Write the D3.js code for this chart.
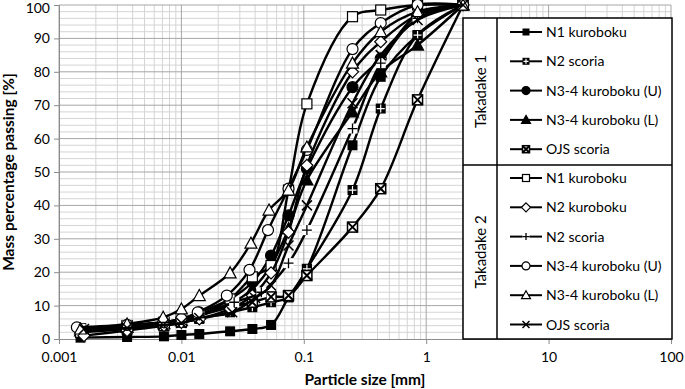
<!DOCTYPE html>
<html lang="en">
<head>
<meta charset="UTF-8" />
<title>Particle size distribution</title>
<script src="https://d3js.org/d3.v7.min.js"></script>
<style>
  body { margin: 0; background: #fff; }
  svg { display: block; font-family: Lato, "Liberation Sans", sans-serif; }
</style>
</head>
<body>
<div id="chart"></div>
<script>
// --- Data: [particle size (mm), mass % passing] ---
const t1N1 = [[2,100],[0.85,91],[0.425,78.5],[0.25,58],[0.106,21],[0.075,12.5],[0.054,4.2],[0.038,3],[0.025,2.3],[0.014,1.5],[0.01,1.2],[0.0072,0.8],[0.0036,0.6],[0.0015,0.4]];
const t1N2s = [[2,100],[0.85,91],[0.425,69],[0.25,44.6],[0.106,21],[0.075,12.5],[0.054,11],[0.038,9.5],[0.025,8],[0.014,6],[0.01,5],[0.0072,4.5],[0.0036,3.5],[0.0015,2.5]];
const t1N34U = [[2,100],[0.85,97],[0.425,84],[0.25,75.4],[0.106,51],[0.075,37],[0.054,25],[0.038,17],[0.025,12],[0.014,8],[0.01,6],[0.0072,5],[0.0036,3.8],[0.0015,2.6]];
const t1N34L = [[2,100],[0.85,88],[0.425,80],[0.25,68],[0.106,47.6],[0.075,33],[0.054,22],[0.038,15],[0.025,10.5],[0.014,7.5],[0.01,5.5],[0.0072,4.6],[0.0036,3.5],[0.0015,2.4]];
const t1OJS = [[2,100],[0.85,71.6],[0.425,45],[0.25,33.5],[0.106,19],[0.075,13],[0.054,12.6],[0.038,11],[0.025,9.5],[0.014,7],[0.01,5.5],[0.0072,5],[0.0036,4],[0.0015,3]];

const t2N1 = [[2,100],[0.85,100],[0.425,98.5],[0.25,96.5],[0.106,70.4],[0.075,44.6],[0.054,22],[0.038,18.6],[0.025,12],[0.014,7],[0.01,5],[0.0072,4],[0.0036,3],[0.0015,2]];
const t2N2k = [[2,100],[0.85,97],[0.425,89],[0.25,80],[0.106,52],[0.075,32],[0.054,19.8],[0.038,13],[0.025,9],[0.014,6],[0.01,5],[0.0072,4],[0.0036,2.5],[0.0016,1]];
const t2N2s = [[2,100],[0.85,96],[0.425,82.6],[0.25,63],[0.106,32.6],[0.075,22.7],[0.045,14],[0.027,11],[0.014,7],[0.01,6],[0.0072,5],[0.0036,4],[0.0015,3]];
const t2N34U = [[2,100],[0.85,100],[0.425,94.6],[0.25,86.8],[0.106,56.6],[0.075,45],[0.051,32.6],[0.036,20.7],[0.0235,13],[0.0136,8],[0.01,6],[0.0072,5],[0.0036,4.2],[0.0014,3.5]];
const t2N34L = [[2,100],[0.85,98],[0.425,92],[0.25,82.6],[0.106,57.5],[0.075,44.6],[0.052,38.6],[0.037,28.7],[0.025,19.8],[0.014,13],[0.01,9],[0.0071,6.5],[0.0036,4.5],[0.0015,3]];
const t2OJS = [[2,100],[0.85,95.5],[0.425,85],[0.25,70.6],[0.106,40],[0.075,28],[0.054,16],[0.04,12.3],[0.026,8],[0.014,6.3],[0.01,4.8],[0.0071,4.2],[0.0036,3.3],[0.0016,3]];

const series = [
  { name: "N1 kuroboku", group: 1, marker: "squareFilled", data: t1N1 },
  { name: "N2 scoria", group: 1, marker: "squarePlus", data: t1N2s },
  { name: "N3-4 kuroboku (U)", group: 1, marker: "circleFilled", data: t1N34U },
  { name: "N3-4 kuroboku (L)", group: 1, marker: "triangleFilled", data: t1N34L },
  { name: "OJS scoria", group: 1, marker: "squareX", data: t1OJS },
  { name: "N1 kuroboku", group: 2, marker: "squareOpen", data: t2N1 },
  { name: "N2 kuroboku", group: 2, marker: "diamondOpen", data: t2N2k },
  { name: "N2 scoria", group: 2, marker: "plus", data: t2N2s },
  { name: "N3-4 kuroboku (U)", group: 2, marker: "circleOpen", data: t2N34U },
  { name: "N3-4 kuroboku (L)", group: 2, marker: "triangleOpen", data: t2N34L },
  { name: "OJS scoria", group: 2, marker: "x", data: t2OJS }
];
const groupLabels = ["Takadake 1", "Takadake 2"];
const xTickValues = [0.001, 0.01, 0.1, 1, 10, 100];
const xTickLabels = ["0.001", "0.01", "0.1", "1", "10", "100"];

// --- Layout ---
const W = 685, H = 389;
const svg = d3.select("#chart").append("svg").attr("width", W).attr("height", H);

const x = d3.scaleLog().domain([0.001, 100]).range([59, 671]);
const y = d3.scaleLinear().domain([0, 100]).range([339, 5]);

// grid
const grid = svg.append("g");
const minorX = [];
for (let e = -3; e < 2; e++) for (let k = 2; k <= 9; k++) minorX.push(k * Math.pow(10, e));
grid.selectAll(".vminor").data(minorX).enter().append("line")
  .attr("x1", d => x(d)).attr("x2", d => x(d)).attr("y1", y(100)).attr("y2", y(0))
  .attr("stroke", "#d4d4d4").attr("stroke-width", 1);
grid.selectAll(".hminor").data(d3.range(2, 100, 2).filter(v => v % 10 !== 0)).enter().append("line")
  .attr("x1", x(0.001)).attr("x2", x(100)).attr("y1", d => y(d)).attr("y2", d => y(d))
  .attr("stroke", "#d4d4d4").attr("stroke-width", 1);
grid.selectAll(".vmajor").data(xTickValues).enter().append("line")
  .attr("x1", d => x(d)).attr("x2", d => x(d)).attr("y1", y(100)).attr("y2", y(0))
  .attr("stroke", "#a6a6a6").attr("stroke-width", 1);
grid.selectAll(".hmajor").data(d3.range(10, 101, 10)).enter().append("line")
  .attr("x1", x(0.001)).attr("x2", x(100)).attr("y1", d => y(d)).attr("y2", d => y(d))
  .attr("stroke", "#a6a6a6").attr("stroke-width", 1);

// axes
const yAxis = d3.axisLeft(y).tickValues(d3.range(0, 101, 10)).tickSize(5).tickPadding(4);
const gy = svg.append("g").attr("transform", `translate(${x(0.001)},0)`).call(yAxis);
const xAxis = d3.axisBottom(x).tickValues(xTickValues).tickSize(5).tickPadding(8)
  .tickFormat((d, i) => xTickLabels[i]);
const gx = svg.append("g").attr("transform", `translate(0,${y(0)})`).call(xAxis);
[gx, gy].forEach(g => {
  g.select(".domain").attr("stroke", "#8c8c8c");
  g.selectAll(".tick line").attr("stroke", "#8c8c8c");
  g.selectAll("text").attr("font-size", 14).attr("fill", "#000").attr("font-family", "Lato, sans-serif");
});
// keep the top label inside the frame
gy.selectAll(".tick text").filter(d => d === 100).attr("dy", "0.55em");

svg.append("text").attr("x", 365).attr("y", 385).attr("text-anchor", "middle")
  .attr("font-size", 15.5).attr("font-weight", "bold").text("Particle size [mm]");
svg.append("text").attr("transform", "translate(14,172) rotate(-90)").attr("text-anchor", "middle")
  .attr("font-size", 15.5).attr("font-weight", "bold").text("Mass percentage passing [%]");

// markers
function drawMarker(g, type, s) {
  const h = s / 2;
  if (type === "squareFilled") {
    g.append("rect").attr("x", -h).attr("y", -h).attr("width", s).attr("height", s).attr("fill", "#000");
  } else if (type === "squarePlus") {
    g.append("rect").attr("x", -h).attr("y", -h).attr("width", s).attr("height", s).attr("fill", "#000");
    g.append("path").attr("d", `M${-h + 1},0H${h - 1}M0,${-h + 1}V${h - 1}`).attr("stroke", "#fff").attr("stroke-width", 1.2);
  } else if (type === "squareX") {
    g.append("rect").attr("x", -h).attr("y", -h).attr("width", s).attr("height", s).attr("fill", "#fff").attr("stroke", "#000").attr("stroke-width", 1.5);
    g.append("path").attr("d", `M${-h},${-h}L${h},${h}M${-h},${h}L${h},${-h}`).attr("stroke", "#000").attr("stroke-width", 2);
  } else if (type === "circleFilled" || type === "circleOpen") {
    g.append("circle").attr("r", h + 0.5).attr("fill", type === "circleFilled" ? "#000" : "#fff")
      .attr("stroke", "#000").attr("stroke-width", 1.2);
  } else if (type === "triangleFilled" || type === "triangleOpen") {
    g.append("path").attr("d", `M0,${-h - 1}L${h + 1},${h}L${-h - 1},${h}Z`)
      .attr("fill", type === "triangleFilled" ? "#000" : "#fff").attr("stroke", "#000").attr("stroke-width", 1.2);
  } else if (type === "squareOpen") {
    g.append("rect").attr("x", -h).attr("y", -h).attr("width", s).attr("height", s).attr("fill", "#fff").attr("stroke", "#000").attr("stroke-width", 1.2);
  } else if (type === "diamondOpen") {
    g.append("path").attr("d", `M0,${-h - 1}L${h + 1},0L0,${h + 1}L${-h - 1},0Z`).attr("fill", "#fff").attr("stroke", "#000").attr("stroke-width", 1.2);
  } else if (type === "plus") {
    g.append("rect").attr("x", -h).attr("y", -h).attr("width", s).attr("height", s).attr("fill", "#fff");
    g.append("path").attr("d", `M${-h},0H${h}M0,${-h}V${h}`).attr("stroke", "#000").attr("stroke-width", 1.3);
  } else if (type === "x") {
    g.append("path").attr("d", `M${-h},${-h}L${h},${h}M${-h},${h}L${h},${-h}`).attr("stroke", "#000").attr("stroke-width", 1.5);
  }
}

const line = d3.line().x(d => x(d[0])).y(d => y(d[1])).curve(d3.curveCatmullRom.alpha(0.5));

const plot = svg.append("g");
series.forEach(s => {
  const pts = s.data.slice().sort((a, b) => a[0] - b[0]);
  plot.append("path").datum(pts).attr("d", line)
    .attr("fill", "none").attr("stroke", "#000").attr("stroke-width", 2.4);
  pts.forEach(p => {
    const g = plot.append("g").attr("transform", `translate(${x(p[0])},${y(p[1])})`);
    drawMarker(g, s.marker, 10);
  });
});

// legend
const lg = svg.append("g");
const lx0 = 463, lx1 = 497, lx2 = 672, ly0 = 18, ly1 = 165, ly2 = 339;
lg.append("rect").attr("x", lx0).attr("y", ly0).attr("width", lx2 - lx0).attr("height", ly2 - ly0)
  .attr("fill", "#fff").attr("stroke", "#000").attr("stroke-width", 1.5);
lg.append("line").attr("x1", lx1).attr("x2", lx1).attr("y1", ly0).attr("y2", ly2).attr("stroke", "#000").attr("stroke-width", 1.5);
lg.append("line").attr("x1", lx0).attr("x2", lx2).attr("y1", ly1).attr("y2", ly1).attr("stroke", "#000").attr("stroke-width", 1.5);
lg.append("text").attr("transform", `translate(486,${(ly0 + ly1) / 2}) rotate(-90)`).attr("text-anchor", "middle")
  .attr("font-size", 15).text(groupLabels[0]);
lg.append("text").attr("transform", `translate(486,${(ly1 + ly2) / 2}) rotate(-90)`).attr("text-anchor", "middle")
  .attr("font-size", 15).text(groupLabels[1]);

const rowY = d3.scaleLinear().domain([0, 1]).range([0, 29.3]);
series.forEach((s, i) => {
  const idx = s.group === 1 ? i : i - 5;
  const yy = (s.group === 1 ? 32 : 178) + rowY(idx);
  const g = lg.append("g").attr("transform", `translate(0,${yy})`);
  g.append("line").attr("x1", 510).attr("x2", 542).attr("stroke", "#000").attr("stroke-width", 2);
  drawMarker(g.append("g").attr("transform", "translate(526,0)"), s.marker, 7);
  g.append("text").attr("x", 546).attr("y", 5).attr("font-size", 14).text(s.name);
});
</script>
</body>
</html>
